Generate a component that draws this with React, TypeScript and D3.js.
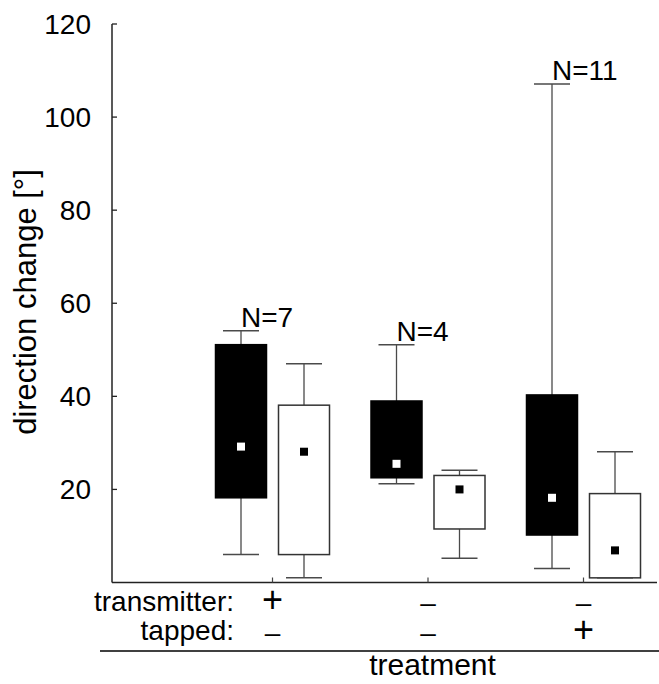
import React from "react";
import * as d3 from "d3";

const groups = ["g1", "g2", "g3"];
const nLabels = ["N=7", "N=4", "N=11"];
const transmitterSigns = ["+", "–", "–"];
const tappedSigns = ["–", "–", "+"];
const yTicks = [20, 40, 60, 80, 100, 120];

// dark (filled) boxes
const darkLow = [6.0, 21.2, 3.0];
const darkQ1 = [18.2, 22.5, 10.2];
const darkQ3 = [51.1, 39.0, 40.3];
const darkHigh = [54.1, 51.1, 107.1];
const darkMean = [29.2, 25.5, 18.2];

// light (open) boxes
const lightLow = [1.0, 5.2, 1.0];
const lightQ1 = [6.0, 11.5, 1.0];
const lightQ3 = [38.1, 23.0, 19.1];
const lightHigh = [47.0, 24.1, 28.1];
const lightMean = [28.1, 20.0, 6.9];

const W = 659;
const H = 684;
const FONT = "'Liberation Sans', Arial, Helvetica, sans-serif";

export default function App() {
  const y = d3.scaleLinear().domain([0, 120]).range([582.5, 24]);
  const x = d3.scalePoint<string>().domain(groups).range([272.5, 583.5]);
  const axisX = 112;
  const axisY = 582.5;
  const boxW = 51;
  const capW = 36;
  const off = 31.5;
  const whiskColor = "#4a4a4a";

  const box = (
    key: string,
    cx: number,
    lo: number,
    q1: number,
    q3: number,
    hi: number,
    mean: number,
    dark: boolean
  ) => (
    <g key={key}>
      <line x1={cx} x2={cx} y1={y(hi)} y2={y(q3)} stroke={whiskColor} strokeWidth={1.3} />
      <line x1={cx} x2={cx} y1={y(q1)} y2={y(lo)} stroke={whiskColor} strokeWidth={1.3} />
      <line x1={cx - capW / 2} x2={cx + capW / 2} y1={y(hi)} y2={y(hi)} stroke={whiskColor} strokeWidth={1.5} />
      <line x1={cx - capW / 2} x2={cx + capW / 2} y1={y(lo)} y2={y(lo)} stroke={whiskColor} strokeWidth={1.5} />
      <rect
        x={cx - boxW / 2}
        y={y(q3)}
        width={boxW}
        height={y(q1) - y(q3)}
        fill={dark ? "#000" : "#fff"}
        stroke={dark ? "#000" : "#333"}
        strokeWidth={1.5}
      />
      <rect x={cx - 4} y={y(mean) - 4} width={8} height={8} fill={dark ? "#fff" : "#000"} />
    </g>
  );

  const signSize = (s: string) => (s === "+" ? 36 : 28);

  return (
    <svg
      width={W}
      height={H}
      style={{ position: "absolute", left: 0, top: 0, background: "#fff" }}
      fontFamily={FONT}
    >
      {/* y axis */}
      <line x1={axisX} x2={axisX} y1={y(120)} y2={axisY} stroke="#222" strokeWidth={1.5} />
      {yTicks.map((t) => (
        <g key={t}>
          <line x1={axisX} x2={axisX + 5} y1={y(t)} y2={y(t)} stroke="#222" strokeWidth={1.3} />
          <text x={91} y={y(t)} dy="0.36em" textAnchor="end" fontSize={28} fill="#000">
            {t}
          </text>
        </g>
      ))}
      <text
        transform={`translate(36,302) rotate(-90)`}
        textAnchor="middle"
        fontSize={31}
        fill="#000"
      >
        direction change [°]
      </text>

      {/* x axis */}
      <line x1={axisX} x2={657} y1={axisY} y2={axisY} stroke="#222" strokeWidth={1.5} />
      {groups.map((g) => (
        <line key={g} x1={x(g)!} x2={x(g)!} y1={axisY} y2={axisY - 5} stroke="#444" strokeWidth={1.2} />
      ))}

      {/* boxes */}
      {groups.map((g, i) =>
        box("d" + g, x(g)! - off, darkLow[i], darkQ1[i], darkQ3[i], darkHigh[i], darkMean[i], true)
      )}
      {groups.map((g, i) =>
        box("l" + g, x(g)! + off, lightLow[i], lightQ1[i], lightQ3[i], lightHigh[i], lightMean[i], false)
      )}

      {/* N labels */}
      {groups.map((g, i) => (
        <text key={"n" + g} x={x(g)! - off} y={y(darkHigh[i]) - 4} fontSize={28} fill="#000">
          {nLabels[i]}
        </text>
      ))}

      {/* treatment labels */}
      <text x={234} y={611} textAnchor="end" fontSize={28} fill="#000">
        transmitter:
      </text>
      <text x={234} y={640} textAnchor="end" fontSize={28} fill="#000">
        tapped:
      </text>
      {groups.map((g, i) => (
        <text key={"t" + g} x={x(g)!} y={612} textAnchor="middle" fontSize={signSize(transmitterSigns[i])} fill="#000">
          {transmitterSigns[i]}
        </text>
      ))}
      {groups.map((g, i) => (
        <text key={"p" + g} x={x(g)!} y={642} textAnchor="middle" fontSize={signSize(tappedSigns[i])} fill="#000">
          {tappedSigns[i]}
        </text>
      ))}
      <line x1={100} x2={659} y1={651} y2={651} stroke="#000" strokeWidth={1.5} />
      <text x={432.5} y={675} textAnchor="middle" fontSize={30} fill="#000">
        treatment
      </text>
    </svg>
  );
}
